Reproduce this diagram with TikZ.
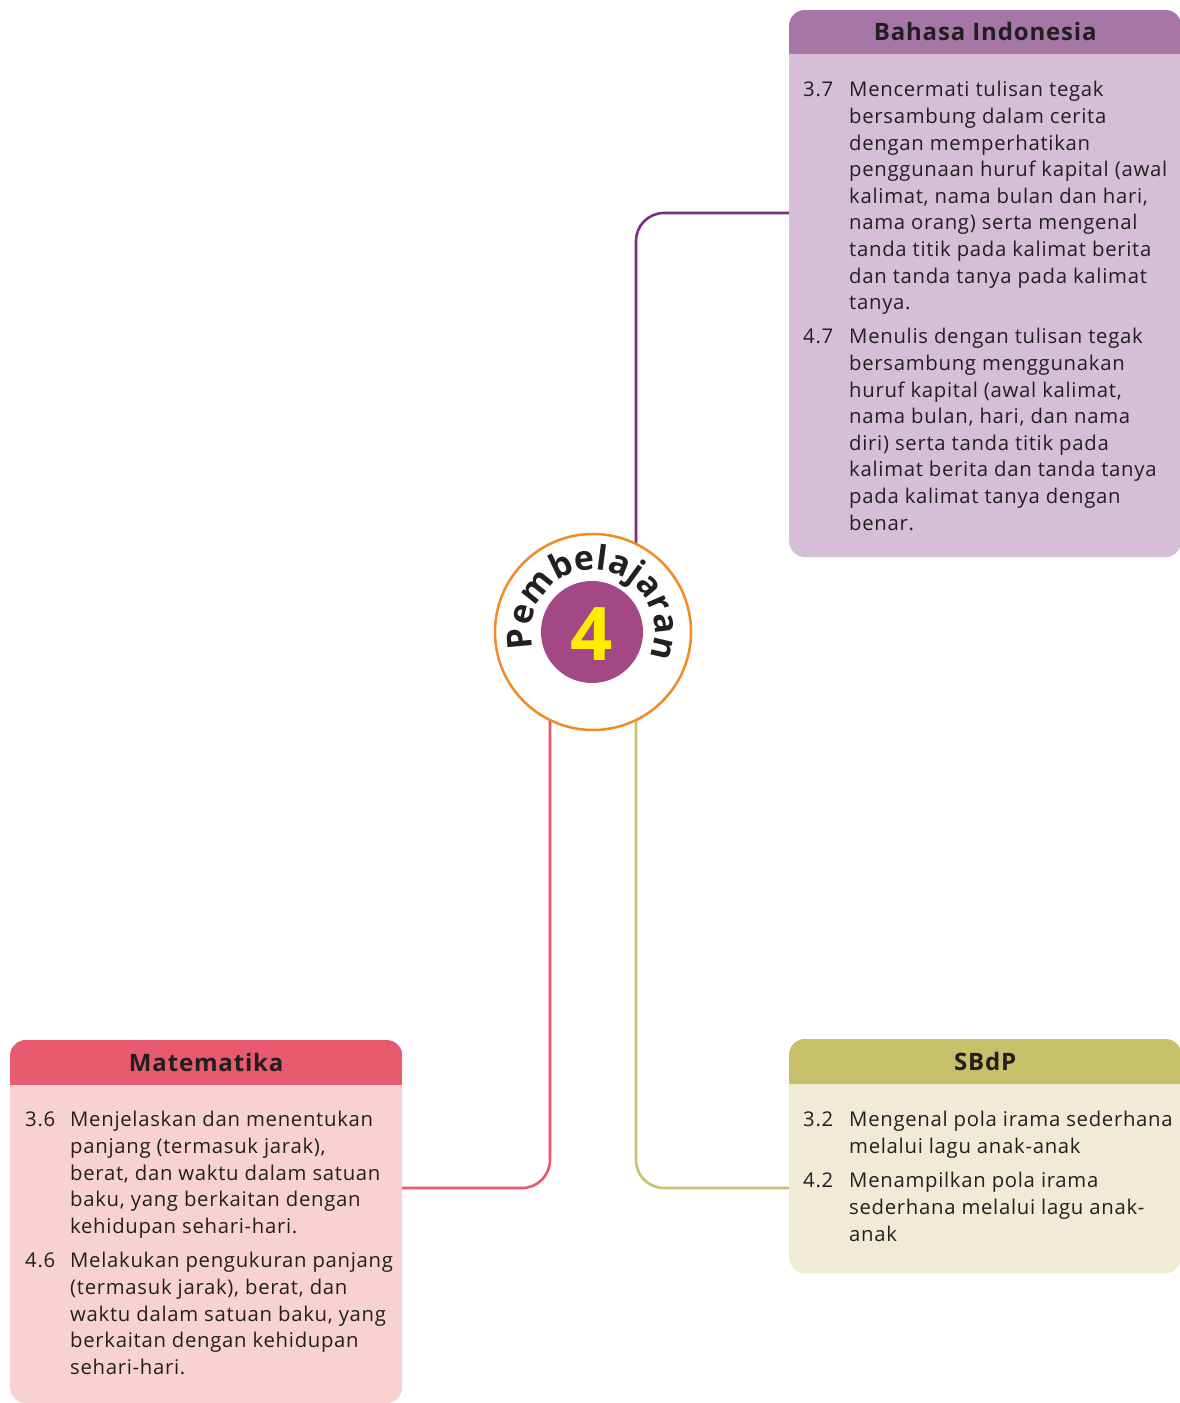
\documentclass[tikz,border=0pt]{standalone}
\usepackage{fontspec}
\setmainfont[LetterSpace=3.5]{Open Sans}
\newfontfamily\hubfont{Open Sans}
\usetikzlibrary{decorations.text}
\definecolor{bihead}{HTML}{A676A6}
\definecolor{bibody}{HTML}{D6BED6}
\definecolor{biline}{HTML}{7E2B83}
\definecolor{mathead}{HTML}{E85A6E}
\definecolor{matbody}{HTML}{F8D2D2}
\definecolor{matline}{HTML}{E55A6E}
\definecolor{sbhead}{HTML}{C7BF69}
\definecolor{sbbody}{HTML}{EFEBD4}
\definecolor{sbline}{HTML}{C8C26E}
\definecolor{ring}{HTML}{F08B26}
\definecolor{innerp}{HTML}{A44785}
\definecolor{yel}{HTML}{FFEC00}
\definecolor{txt}{HTML}{231F20}
\newcommand\arcfont{\hubfont\bfseries\fontsize{34}{34}\selectfont}
\tikzset{
  bodytext/.style={anchor=base west, inner sep=0pt, align=left, font=\fontsize{20.3}{26.6}\selectfont, text=txt},
  titletext/.style={inner sep=0pt, font=\bfseries\fontsize{24}{28}\selectfont, text=txt},
  conn/.style={line width=2.6pt, rounded corners=28pt},
  panel/.style={rounded corners=16pt, inner sep=0pt, anchor=north west},
}
\begin{document}
\begin{tikzpicture}[x=1pt,y=1pt]
\useasboundingbox (0,0) rectangle (1180,1403);
\fill[white] (0,0) rectangle (1180,1403);

% connection points
\coordinate (biport) at (789,1190);
\coordinate (hubN) at (636,859);
\coordinate (matport) at (402,215);
\coordinate (hubSW) at (550,683);
\coordinate (sbport) at (789,215);
\coordinate (hubSE) at (636,683);

% connectors
\draw[conn, biline] (biport) -| (hubN);
\draw[conn, matline] (matport) -| (hubSW);
\draw[conn, sbline] (sbport) -| (hubSE);

% ---------- Bahasa Indonesia ----------
\node[panel, fill=bibody, minimum width=392pt, minimum height=547pt] (bibox) at (789,1393) {};
\begin{scope}
\clip[rounded corners=16pt] (bibox.south west) rectangle (bibox.north east);
\fill[bihead] (bibox.north west) rectangle ([yshift=-44pt]bibox.north east);
\end{scope}
\node[titletext] (bititle) at ([yshift=-22pt]bibox.north) {Bahasa Indonesia};
\node[bodytext] (bin1) at (803,1306) {3.7};
\node[bodytext] (bit1) at (849,1093.2) {Mencermati tulisan tegak\\bersambung dalam cerita\\dengan memperhatikan\\penggunaan huruf kapital (awal\\kalimat, nama bulan dan hari,\\nama orang) serta mengenal\\tanda titik pada kalimat berita\\dan tanda tanya pada kalimat\\tanya.};
\node[bodytext] (bin2) at (803,1059) {4.7};
\node[bodytext] (bit2) at (849,872.8) {Menulis dengan tulisan tegak\\bersambung menggunakan\\huruf kapital (awal kalimat,\\nama bulan, hari, dan nama\\diri) serta tanda titik pada\\kalimat berita dan tanda tanya\\pada kalimat tanya dengan\\benar.};

% ---------- Matematika ----------
\node[panel, fill=matbody, minimum width=392pt, minimum height=363pt] (matbox) at (10,363) {};
\begin{scope}
\clip[rounded corners=16pt] (matbox.south west) rectangle (matbox.north east);
\fill[mathead] (matbox.north west) rectangle ([yshift=-45pt]matbox.north east);
\end{scope}
\node[titletext] (mattitle) at ([yshift=-22.5pt]matbox.north) {Matematika};
\node[bodytext] (matn1) at (25,276) {3.6};
\node[bodytext] (matt1) at (70,169.6) {Menjelaskan dan menentukan\\panjang (termasuk jarak),\\berat, dan waktu dalam satuan\\baku, yang berkaitan dengan\\kehidupan sehari-hari.};
\node[bodytext] (matn2) at (25,135) {4.6};
\node[bodytext] (matt2) at (70,28.6) {Melakukan pengukuran panjang\\(termasuk jarak), berat, dan\\waktu dalam satuan baku, yang\\berkaitan dengan kehidupan\\sehari-hari.};

% ---------- SBdP ----------
\node[panel, fill=sbbody, minimum width=392pt, minimum height=234pt] (sbbox) at (789,364) {};
\begin{scope}
\clip[rounded corners=16pt] (sbbox.south west) rectangle (sbbox.north east);
\fill[sbhead] (sbbox.north west) rectangle ([yshift=-45pt]sbbox.north east);
\end{scope}
\node[titletext] (sbtitle) at ([yshift=-22.5pt]sbbox.north) {SBdP};
\node[bodytext] (sbn1) at (803,276) {3.2};
\node[bodytext] (sbt1) at (849,249.4) {Mengenal pola irama sederhana\\melalui lagu anak-anak};
\node[bodytext] (sbn2) at (803,215) {4.2};
\node[bodytext] (sbt2) at (849,161.8) {Menampilkan pola irama\\sederhana melalui lagu anak-\\anak};

% ---------- Hub ----------
\node[circle, draw=ring, line width=2.5pt, fill=white, minimum size=196pt, inner sep=0pt] (hub) at (593,771) {};
\node[circle, fill=innerp, minimum size=102pt, inner sep=0pt] (core) at (592,771) {};
\node[inner sep=0pt, font=\hubfont\bfseries\fontsize{74}{74}\selectfont, text=yel] (num) at (592,769) {4};
\path[decorate, decoration={text along path, text={|\arcfont|Pembelajaran}, text align={fit to path}, text color=txt}]
  ([shift={(195:62pt)}]hub.center) arc[start angle=195, end angle=-15, radius=62pt];
\end{tikzpicture}
\end{document}
